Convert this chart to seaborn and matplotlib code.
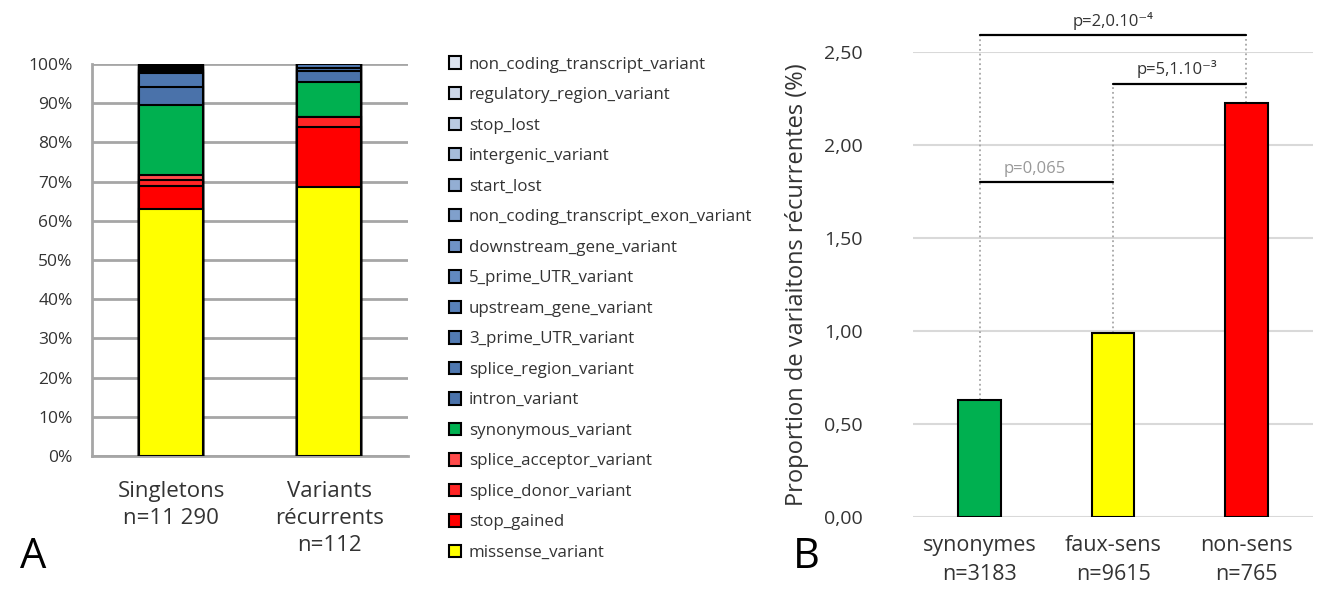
import numpy as np
import pandas as pd
import matplotlib
matplotlib.use("Agg")
import matplotlib.pyplot as plt
from matplotlib.patches import Patch
import seaborn as sns

# ---- data ----
var_types = ["missense_variant", "stop_gained", "splice_donor_variant", "splice_acceptor_variant",
             "synonymous_variant", "intron_variant", "splice_region_variant", "3_prime_UTR_variant",
             "upstream_gene_variant", "5_prime_UTR_variant", "downstream_gene_variant",
             "non_coding_transcript_exon_variant", "start_lost", "intergenic_variant", "stop_lost",
             "regulatory_region_variant", "non_coding_transcript_variant"]
var_colors = ["#FFFF00", "#FF0000", "#FF2525", "#FF4B4B", "#00B050",
              "#4A72AA", "#4E77AF", "#527BB3", "#5881BA", "#6189C0", "#6F93C6",
              "#80A0CC", "#93AED3", "#A6BCDA", "#B9CAE1", "#CBD6E8", "#DCE3EF"]
groups = ["Singletons\nn=11 290", "Variants\nrécurrents\nn=112"]
singletons_pct = [62.9, 6.0, 1.6, 1.1, 17.9, 4.6, 3.5, 0.5, 0.4, 0.4, 0.3, 0.2, 0.2, 0.1, 0.1, 0.1, 0.1]
recurrent_pct = [68.75, 15.18, 2.68, 0.0, 8.93, 2.68, 0.89, 0.89, 0.0, 0.0, 0.0, 0.0, 0.0, 0.0, 0.0, 0.0, 0.0]

classes = ["synonymes\nn=3183", "faux-sens\nn=9615", "non-sens\nn=765"]
recurrent_prop = [0.63, 0.99, 2.225]
class_colors = ["#00B050", "#FFFF00", "#FF0000"]
pvalues = ["p=2,0.10⁻⁴", "p=5,1.10⁻³", "p=0,065"]

sns.set_style("white")
plt.rcParams["font.family"] = ["Open Sans", "DejaVu Sans"]
txt = "#333333"

fig = plt.figure(figsize=(13.17, 5.89), dpi=100)
axA = fig.add_axes([0.0699, 0.2258, 0.240, 0.6655])
axB = fig.add_axes([0.6933, 0.1222, 0.3037, 0.7895])

# ---- panel A: stacked bars (cumulative, drawn from top down) ----
cum = np.cumsum(np.array([singletons_pct, recurrent_pct]), axis=1)
for i in reversed(range(len(var_types))):
    sns.barplot(x=groups, y=cum[:, i], color=var_colors[i], saturation=1,
                edgecolor="black", linewidth=1.5, width=0.405, ax=axA, zorder=3)

axA.set_xlim(-0.5, 1.5)
axA.set_ylim(0, 100)
axA.set_yticks(range(0, 101, 10))
axA.set_yticklabels([f"{v}%" for v in range(0, 101, 10)])
axA.yaxis.grid(True, color="#A6A6A6", lw=2)
axA.set_axisbelow(True)
for s in ["top", "right"]:
    axA.spines[s].set_visible(False)
for s in ["left", "bottom"]:
    axA.spines[s].set_color("#A6A6A6")
    axA.spines[s].set_linewidth(2)
axA.set_xticks([-0.5, 0.5, 1.5], minor=True)
axA.tick_params(axis="x", which="major", length=0, pad=18, labelsize=16, labelcolor=txt)
axA.tick_params(axis="x", which="minor", length=6, width=2, color="#A6A6A6")
axA.tick_params(axis="y", length=6, width=2, color="#A6A6A6", labelsize=12.5, labelcolor=txt, pad=8)
for lab in axA.get_xticklabels():
    lab.set_linespacing(1.37)
axA.set_xlabel("")
axA.set_ylabel("")

handles = [Patch(facecolor=c, edgecolor="black", lw=1.5) for c in var_colors][::-1]
fig.legend(handles, var_types[::-1], loc="upper left", bbox_to_anchor=(0.329, 0.93),
           frameon=False, fontsize=12.2, labelspacing=0.85, handlelength=0.75, handleheight=0.75,
           handletextpad=0.45, labelcolor=txt)

# ---- panel B: proportion of recurrent variants ----
sns.barplot(x=classes, y=recurrent_prop, hue=classes, palette=class_colors, legend=False,
            saturation=1, edgecolor="black", linewidth=1.5, width=0.32, ax=axB, zorder=3)
axB.set_xlim(-0.5, 2.5)
axB.set_ylim(0, 2.5)
yt = np.arange(0, 2.51, 0.5)
axB.set_yticks(yt)
axB.set_yticklabels([f"{v:.2f}".replace(".", ",") for v in yt])
axB.yaxis.grid(True, color="#D9D9D9", lw=1.5)
axB.set_axisbelow(True)
sns.despine(ax=axB, left=True, bottom=True)
axB.tick_params(axis="both", length=0, labelcolor=txt)
axB.tick_params(axis="y", labelsize=14, pad=36)
axB.tick_params(axis="x", labelsize=15.5, pad=13)
for lab in axB.get_xticklabels():
    lab.set_linespacing(1.5)
axB.set_xlabel("")
axB.set_ylabel("Proportion de variaitons récurrentes (%)", fontsize=17, color=txt, labelpad=11)

# significance brackets
y_top, y_mid, y_low = 2.59, 2.33, 1.80
dot = dict(ls=":", color="#A6A6A6", lw=1.3, clip_on=False, zorder=2)
axB.plot([0, 0], [recurrent_prop[0], y_top], **dot)
axB.plot([1, 1], [recurrent_prop[1], y_mid], **dot)
axB.plot([2, 2], [recurrent_prop[2], y_top], **dot)
axB.plot([0, 2], [y_top, y_top], color="black", lw=1.6, clip_on=False)
axB.plot([1, 2], [y_mid, y_mid], color="black", lw=1.6, clip_on=False)
axB.plot([0, 1], [y_low, y_low], color="black", lw=1.6, clip_on=False)
axB.text(1.0, y_top + 0.03, pvalues[0], ha="center", va="bottom", fontsize=12, color=txt)
axB.text(1.48, y_mid + 0.03, pvalues[1], ha="center", va="bottom", fontsize=12, color=txt)
axB.text(0.41, y_low + 0.03, pvalues[2], ha="center", va="bottom", fontsize=12, color="#999999")

fig.text(0.015, 0.035, "A", fontsize=30, color="black")
fig.text(0.602, 0.035, "B", fontsize=30, color="black")

fig.savefig("out.png", dpi=100)
